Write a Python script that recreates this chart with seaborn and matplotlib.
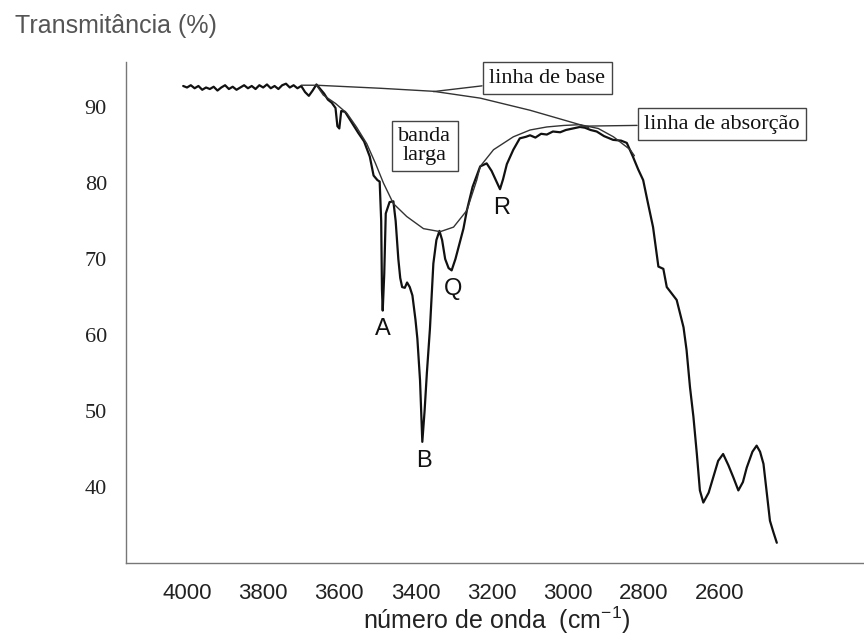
import matplotlib
matplotlib.use("Agg")
import matplotlib.pyplot as plt
import pandas as pd
import seaborn as sns

# ---- data ----
wavenumber = [4010, 4000, 3990, 3980, 3970, 3960, 3950, 3940, 3930, 3920, 3910, 3900,
              3890, 3880, 3870, 3860, 3850, 3840, 3830, 3820, 3810, 3800, 3790, 3780,
              3770, 3760, 3750, 3740, 3730, 3720, 3710, 3700, 3690, 3680, 3670, 3660,
              3650, 3640, 3630, 3620, 3610, 3605, 3600, 3595, 3585, 3570, 3550, 3535,
              3520, 3510, 3500, 3494, 3490, 3488, 3486, 3482, 3478, 3468, 3458, 3452,
              3445, 3440, 3435, 3428, 3422, 3415, 3408, 3400, 3395, 3388, 3382, 3376,
              3370, 3362, 3353, 3345, 3337, 3330, 3322, 3313, 3305, 3295, 3283, 3274,
              3265, 3250, 3230, 3213, 3200, 3190, 3178, 3170, 3160, 3143, 3126, 3110,
              3099, 3085, 3070, 3055, 3039, 3020, 3005, 2986, 2968, 2955, 2940, 2924,
              2905, 2881, 2860, 2845, 2829, 2815, 2802, 2790, 2776, 2766, 2762, 2749,
              2740, 2714, 2696, 2688, 2679, 2670, 2661, 2653, 2644, 2630, 2618, 2605,
              2592, 2578, 2565, 2552, 2540, 2530, 2515, 2504, 2495, 2486, 2478, 2469,
              2460, 2451]
transmittance = [92.8, 92.6, 92.9, 92.5, 92.8, 92.3, 92.6, 92.4, 92.7, 92.2, 92.6, 92.9,
                 92.4, 92.7, 92.3, 92.6, 92.9, 92.5, 92.8, 92.4, 92.9, 92.6, 93.0, 92.5,
                 92.8, 92.4, 92.9, 93.1, 92.6, 92.9, 92.5, 92.8, 92.0, 91.5, 92.2, 93.0,
                 92.4, 91.8, 91.0, 90.6, 89.9, 87.5, 87.2, 89.5, 89.4, 88.2, 86.6, 85.5,
                 83.5, 81.0, 80.4, 80.2, 75.0, 66.0, 63.2, 68.0, 76.0, 77.5, 77.6, 75.0,
                 70.0, 67.5, 66.3, 66.2, 66.9, 66.3, 65.2, 62.0, 59.5, 54.0, 45.9, 50.0,
                 55.0, 60.8, 69.4, 72.5, 73.7, 72.5, 70.0, 68.8, 68.5, 70.0, 72.3, 74.0,
                 76.4, 79.5, 82.2, 82.6, 81.6, 80.5, 79.2, 80.5, 82.5, 84.4, 85.9, 86.1,
                 86.3, 86.0, 86.5, 86.4, 86.8, 86.7, 87.0, 87.2, 87.4, 87.3, 87.0, 86.8,
                 86.2, 85.7, 85.6, 85.3, 83.5, 81.8, 80.4, 77.5, 74.2, 70.5, 69.0, 68.7,
                 66.3, 64.6, 61.0, 58.0, 53.1, 49.2, 44.3, 39.5, 37.9, 39.2, 41.2, 43.4,
                 44.3, 42.8, 41.2, 39.5, 40.6, 42.5, 44.6, 45.4, 44.6, 43.0, 39.5, 35.5,
                 34.0, 32.6]

envelope_wn = [3660, 3642, 3610, 3580, 3555, 3528, 3505, 3484, 3458, 3423, 3379, 3335,
               3300, 3265, 3239, 3230, 3195, 3143, 3099, 3055, 3010, 2968, 2920, 2880,
               2836, 2825]
envelope_t = [92.9, 91.6, 90.5, 89.2, 87.4, 85.2, 82.6, 80.0, 77.3, 75.6, 74.0, 73.6,
              74.2, 76.4, 80.4, 82.2, 84.4, 86.1, 87.0, 87.4, 87.6, 87.7, 87.2, 86.1,
              84.4, 83.6]

baseline_wn = [3700, 3660, 3493, 3353, 3230, 3099, 2968, 2945]
baseline_t = [92.9, 92.9, 92.5, 92.1, 91.2, 89.6, 87.7, 87.3]

x_ticks = [4000, 3800, 3600, 3400, 3200, 3000, 2800, 2600]
y_ticks = [40, 50, 60, 70, 80, 90]

peak_labels = ["A", "B", "Q", "R"]
peak_label_wn = [3487, 3379, 3300, 3173]
peak_label_t = [60.8, 43.4, 66.1, 76.7]

title_text = "Transmitância (%)"
xlabel_text = "número de onda  (cm$^{-1}$)"

# ---- figure ----
sns.set_style("white")
plt.rcParams['font.family'] = ['Liberation Sans', 'DejaVu Sans']
plt.rcParams['mathtext.fontset'] = 'custom'
plt.rcParams['mathtext.rm'] = 'Liberation Sans'
plt.rcParams['mathtext.it'] = 'Liberation Sans'

W, H = 864, 639
fig = plt.figure(figsize=(W / 100, H / 100), dpi=100)
left, right, top, bottom = 125.7, 864, 61.7, 562.5
ax = fig.add_axes([left / W, 1 - bottom / H, (right - left) / W, (bottom - top) / H])

spec = pd.DataFrame({"wn": wavenumber, "T": transmittance})
sns.lineplot(data=spec, x="wn", y="T", ax=ax, color="#111111", lw=1.6, sort=False)
sns.lineplot(x=envelope_wn, y=envelope_t, ax=ax, color="#333333", lw=1.0, sort=False)
sns.lineplot(x=baseline_wn, y=baseline_t, ax=ax, color="#333333", lw=1.0, sort=False)

ax.set_xlim(4161, 2222)
ax.set_ylim(30, 96)

ax.set_xticks(x_ticks)
ax.set_yticks(y_ticks)
ax.set_xticklabels([str(t) for t in x_ticks],
                   fontdict={"family": ["Liberation Sans", "DejaVu Sans"], "size": 16})
ax.set_yticklabels([str(t) for t in y_ticks],
                   fontdict={"family": ["Liberation Serif", "DejaVu Serif"], "size": 16})
ax.tick_params(axis="x", direction="out", length=10, width=1, color="#777777",
               labelcolor="#222222", pad=5)
ax.tick_params(axis="y", direction="out", length=11.5, width=1, color="#777777",
               labelcolor="#222222", pad=2)

for s in ["top", "right"]:
    ax.spines[s].set_visible(False)
for s in ["left", "bottom"]:
    ax.spines[s].set_color("#777777")
    ax.spines[s].set_linewidth(1.0)

ax.set_xlabel(xlabel_text, family=["Liberation Sans", "DejaVu Sans"],
              fontsize=18, color="#222222")
ax.xaxis.set_label_coords(0.503, -0.085)
ax.set_ylabel("")

fig.text(15 / W, 1 - 26 / H, title_text, fontsize=18, color="#555555",
         ha="left", va="center")

serif = ["Liberation Serif", "DejaVu Serif"]
box = dict(boxstyle="square,pad=0.3", fc="white", ec="#444444", lw=1.0)

ax.annotate("linha de base", xy=(3353, 92.06), xytext=(3054, 93.83),
            ha="center", va="center", fontsize=16, family=serif, color="#111111",
            bbox=box, arrowprops=dict(arrowstyle="-", color="#333333", lw=1.0,
                                      shrinkA=0, shrinkB=0))
ax.annotate("linha de absorção", xy=(2968, 87.5), xytext=(2595, 87.76),
            ha="center", va="center", fontsize=16, family=serif, color="#111111",
            bbox=box, arrowprops=dict(arrowstyle="-", color="#333333", lw=1.0,
                                      shrinkA=0, shrinkB=0))
ax.text(3375, 84.9, "banda\nlarga", ha="center", va="center", fontsize=16,
        family=serif, color="#111111", linespacing=0.95, bbox=box)

for lab, wn, t in zip(peak_labels, peak_label_wn, peak_label_t):
    ax.text(wn, t, lab, ha="center", va="center", fontsize=17, color="#111111")

fig.savefig("out.png", dpi=100, facecolor="white")
